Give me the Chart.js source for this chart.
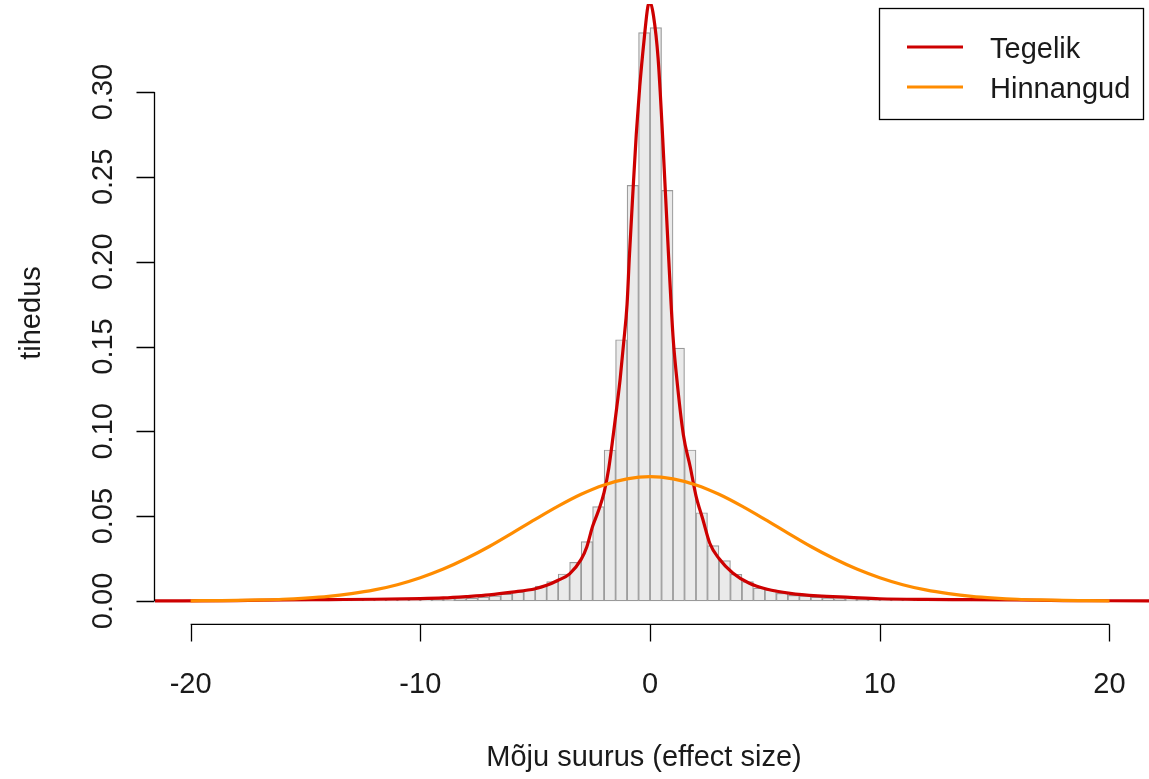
<!DOCTYPE html>
<html>
<head>
<meta charset="utf-8">
<script src="https://cdn.jsdelivr.net/npm/chart.js@4/dist/chart.umd.min.js"></script>
<style>
  html, body { margin: 0; padding: 0; background: #fff; }
  canvas { display: block; }
</style>
</head>
<body>
<canvas id="chart" width="1149" height="779"></canvas>
<script>
// histogram of simulated effects, bins of width 0.5 starting at -18
const histStart = -18;
const binWidth = 0.5;
const histValues = [
  0.0002, 0.0002, 0.0003, 0.0003, 0.0003, 0.0004, 0.0004, 0.0005, 0.0005,
  0.0006, 0.0006, 0.0007, 0.0007, 0.0008, 0.0008, 0.0009, 0.0010, 0.0011,
  0.0012, 0.0014, 0.0017, 0.0022, 0.0030, 0.0041, 0.0052, 0.0065, 0.0088,
  0.0114, 0.0159, 0.0228, 0.0350, 0.0556, 0.0890, 0.1540, 0.2450, 0.3350,
  0.3380, 0.2420, 0.1490, 0.0890, 0.0520, 0.0326, 0.0238, 0.0157, 0.0114,
  0.0075, 0.0065, 0.0045, 0.0033, 0.0030, 0.0022, 0.0018, 0.0014, 0.0012,
  0.0011, 0.0010, 0.0009, 0.0008, 0.0008, 0.0007, 0.0007, 0.0006, 0.0006,
  0.0005, 0.0005, 0.0004, 0.0004, 0.0003, 0.0003, 0.0003, 0.0002, 0.0002
];

// true density ("Tegelik")
const trueX = [
  -21.55, -18, -16, -14, -12, -10, -9, -8, -7, -6, -5, -4.5, -4, -3.5, -3,
  -2.75, -2.5, -2.25, -2, -1.8, -1.6, -1.45, -1.3, -1.15, -1, -0.9, -0.75,
  -0.6, -0.45, -0.25, -0.1, 0, 0.15, 0.35, 0.55, 0.8, 1, 1.15, 1.45, 1.75,
  2, 2.3, 2.6, 3, 3.6, 4.3, 5.1, 6.1, 7.3, 8.7, 10, 12, 14, 16, 18, 21.72
];
const trueY = [
  0.0000, 0.0002, 0.0006, 0.0008, 0.0010, 0.0014, 0.0018, 0.0026, 0.0036,
  0.0052, 0.0072, 0.0092, 0.0122, 0.0160, 0.0245, 0.0320, 0.0440, 0.0530,
  0.0640, 0.0780, 0.0980, 0.1140, 0.1310, 0.1520, 0.1750, 0.2030, 0.2400,
  0.2750, 0.3030, 0.3320, 0.3500, 0.3530, 0.3450, 0.3200, 0.2730, 0.2050,
  0.1560, 0.1330, 0.0980, 0.0790, 0.0620, 0.0480, 0.0340, 0.0250, 0.0165,
  0.0106, 0.0069, 0.0045, 0.0030, 0.0021, 0.0013, 0.0009, 0.0008, 0.0006,
  0.0002, 0.0001
];

// density of the estimates ("Hinnangud")
const estX = [
  -20, -19, -18, -17, -16, -15, -14, -13, -12, -11, -10, -9, -8, -7, -6, -5,
  -4, -3, -2, -1, 0, 1, 2, 3, 4, 5, 6, 7, 8, 9, 10, 11, 12, 13, 14, 15, 16,
  17, 18, 19, 20
];
const estY = [
  0.0001, 0.0002, 0.0003, 0.0006, 0.0010, 0.0017, 0.0027, 0.0043, 0.0065,
  0.0096, 0.0137, 0.0188, 0.0250, 0.0321, 0.0400, 0.0481, 0.0559, 0.0629,
  0.0684, 0.0720, 0.0733, 0.0720, 0.0684, 0.0629, 0.0559, 0.0481, 0.0400,
  0.0321, 0.0250, 0.0188, 0.0137, 0.0096, 0.0065, 0.0043, 0.0027, 0.0017,
  0.0010, 0.0006, 0.0003, 0.0002, 0.0001
];

const xTicks = [-20, -10, 0, 10, 20];
const yTicks = [0, 0.05, 0.10, 0.15, 0.20, 0.25, 0.30];
const yTickLabels = ['0.00', '0.05', '0.10', '0.15', '0.20', '0.25', '0.30'];

const seriesNames = ['Tegelik', 'Hinnangud'];
const seriesColors = ['#cd0000', '#ff8c00'];
const xTitle = 'Mõju suurus (effect size)';
const yTitle = 'tihedus';

const FONT = '29px "Liberation Sans", Arial, sans-serif';

const histData = histValues.map((v, i) => ({ x: histStart + binWidth * (i + 0.5), y: v }));
const trueData = trueX.map((x, i) => ({ x: x, y: trueY[i] }));
const estData = estX.map((x, i) => ({ x: x, y: estY[i] }));

// R-style axes, titles and legend
const baseAxes = {
  id: 'baseAxes',
  afterDraw(chart) {
    const ctx = chart.ctx;
    const xs = chart.scales.x;
    const ys = chart.scales.y;
    ctx.save();
    ctx.strokeStyle = '#000';
    ctx.fillStyle = '#1a1a1a';
    ctx.lineWidth = 1.3;
    ctx.font = FONT;

    // x axis, drawn below the plot region
    const axY = ys.getPixelForValue(0) + 23.5;
    ctx.beginPath();
    ctx.moveTo(xs.getPixelForValue(xTicks[0]), axY);
    ctx.lineTo(xs.getPixelForValue(xTicks[xTicks.length - 1]), axY);
    xTicks.forEach(t => {
      const px = Math.round(xs.getPixelForValue(t)) + 0.5;
      ctx.moveTo(px, axY);
      ctx.lineTo(px, axY + 17);
    });
    ctx.stroke();
    ctx.textAlign = 'center';
    ctx.textBaseline = 'alphabetic';
    xTicks.forEach(t => {
      ctx.fillText(String(t), xs.getPixelForValue(t), 693);
    });
    ctx.fillText(xTitle, 644, 766);

    // y axis on the left edge of the plot region
    const axX = chart.chartArea.left - 0.5;
    ctx.beginPath();
    ctx.moveTo(axX, ys.getPixelForValue(yTicks[0]));
    ctx.lineTo(axX, ys.getPixelForValue(yTicks[yTicks.length - 1]));
    yTicks.forEach(t => {
      const py = Math.round(ys.getPixelForValue(t)) + 0.5;
      ctx.moveTo(axX, py);
      ctx.lineTo(axX - 18, py);
    });
    ctx.stroke();
    yTicks.forEach((t, i) => {
      ctx.save();
      ctx.translate(112, ys.getPixelForValue(t));
      ctx.rotate(-Math.PI / 2);
      ctx.fillText(yTickLabels[i], 0, 0);
      ctx.restore();
    });
    ctx.save();
    ctx.translate(40, 313);
    ctx.rotate(-Math.PI / 2);
    ctx.fillText(yTitle, 0, 0);
    ctx.restore();

    // legend box
    ctx.fillStyle = '#fff';
    ctx.fillRect(879, 8, 265, 112);
    ctx.lineWidth = 1.3;
    ctx.strokeRect(879.5, 8.5, 264, 111);
    ctx.textAlign = 'left';
    ctx.fillStyle = '#1a1a1a';
    seriesNames.forEach((name, i) => {
      const ly = 47 + i * 40;
      ctx.strokeStyle = seriesColors[i];
      ctx.lineWidth = 3;
      ctx.beginPath();
      ctx.moveTo(907, ly);
      ctx.lineTo(963, ly);
      ctx.stroke();
      ctx.fillText(name, 990, ly + 11);
    });
    ctx.restore();
  }
};

new Chart(document.getElementById('chart'), {
  type: 'bar',
  data: {
    datasets: [
      {
        type: 'line',
        label: seriesNames[1],
        data: estData,
        borderColor: seriesColors[1],
        borderWidth: 3.2,
        pointRadius: 0,
        cubicInterpolationMode: 'monotone',
        order: 1
      },
      {
        type: 'line',
        label: seriesNames[0],
        data: trueData,
        borderColor: seriesColors[0],
        borderWidth: 3.2,
        pointRadius: 0,
        cubicInterpolationMode: 'monotone',
        order: 2
      },
      {
        type: 'bar',
        label: 'hist',
        data: histData,
        backgroundColor: '#eaeaea',
        borderColor: '#9a9a9a',
        borderWidth: 1.2,
        borderSkipped: false,
        barPercentage: 1,
        categoryPercentage: 1,
        order: 3
      }
    ]
  },
  options: {
    responsive: false,
    animation: false,
    devicePixelRatio: 1,
    layout: { padding: { left: 155, right: 0, top: 4, bottom: 157 } },
    plugins: { legend: { display: false }, tooltip: { enabled: false } },
    scales: {
      x: {
        type: 'linear',
        min: -21.55,
        max: 21.72,
        offset: false,
        display: false,
        ticks: { stepSize: 5 }
      },
      y: {
        type: 'linear',
        min: -0.0124,
        max: 0.3519,
        display: false
      }
    }
  },
  plugins: [baseAxes]
});
</script>
</body>
</html>
